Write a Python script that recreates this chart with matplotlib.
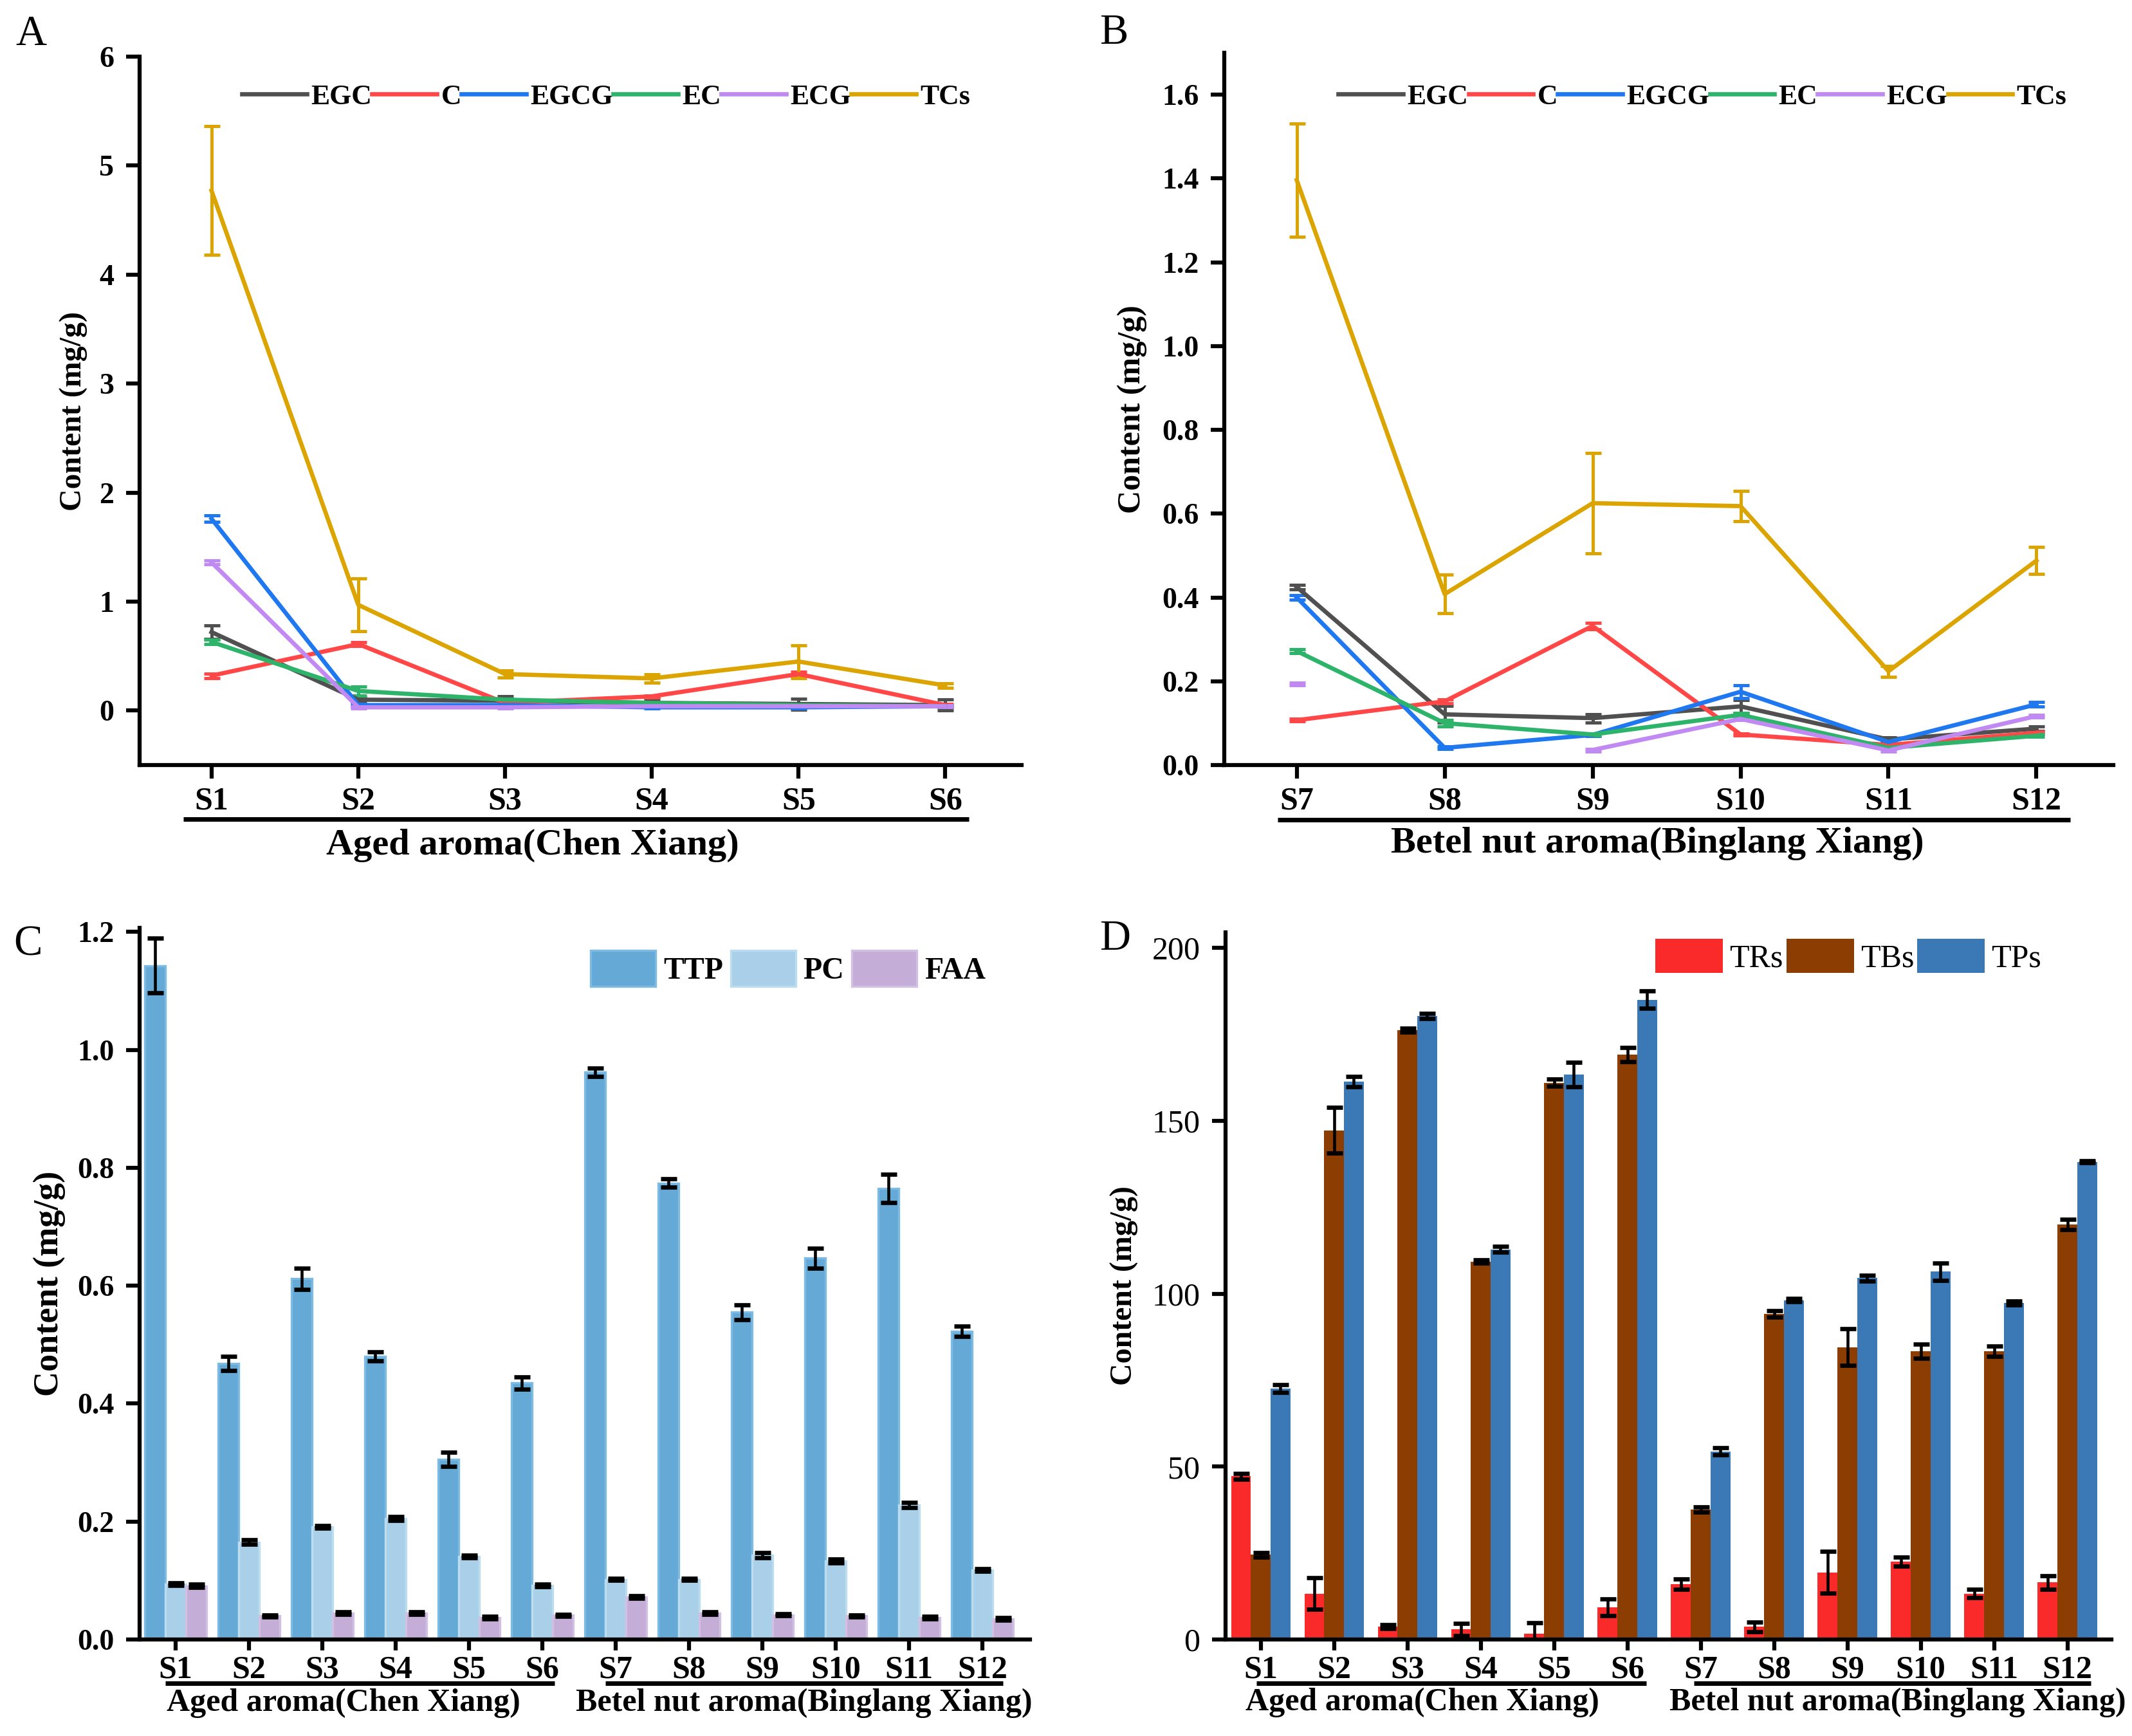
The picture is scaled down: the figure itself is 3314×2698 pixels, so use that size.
import numpy as np
import matplotlib
matplotlib.use('Agg')
import matplotlib.pyplot as plt

plt.rcParams['font.family'] = ['Liberation Serif', 'DejaVu Serif']

# ---- data ----
samples_ab_a = ['S1', 'S2', 'S3', 'S4', 'S5', 'S6']
samples_ab_b = ['S7', 'S8', 'S9', 'S10', 'S11', 'S12']
samples_cd = ['S1', 'S2', 'S3', 'S4', 'S5', 'S6', 'S7', 'S8', 'S9', 'S10', 'S11', 'S12']

cat_names = ['EGC', 'C', 'EGCG', 'EC', 'ECG', 'TCs']
cat_colors = ['#505050', '#ff4747', '#1f78f0', '#2eb46a', '#c08af2', '#dca400']

# panel A (Aged aroma)
a_egc = [0.72, 0.10, 0.09, 0.07, 0.06, 0.05]
a_egc_err = [0.06, 0.02, 0.04, 0.04, 0.05, 0.05]
a_c = [0.32, 0.61, 0.07, 0.13, 0.335, 0.05]
a_c_err = [0.02, 0.02, 0.01, 0.01, 0.02, 0.01]
a_egcg = [1.76, 0.05, 0.05, 0.03, 0.03, 0.04]
a_egcg_err = [0.03, 0.01, 0.01, 0.01, 0.01, 0.01]
a_ec = [0.63, 0.18, 0.10, 0.07, 0.05, 0.04]
a_ec_err = [0.02, 0.04, 0.01, 0.01, 0.01, 0.01]
a_ecg = [1.36, 0.03, 0.03, 0.04, 0.04, 0.04]
a_ecg_err = [0.02, 0.01, 0.01, 0.01, 0.01, 0.01]
a_tcs = [4.77, 0.97, 0.335, 0.295, 0.45, 0.23]
a_tcs_err = [0.59, 0.24, 0.03, 0.04, 0.15, 0.02]

# panel B (Betel nut aroma)
b_egc = [0.425, 0.121, 0.112, 0.14, 0.061, 0.087]
b_egc_err = [0.005, 0.02, 0.01, 0.015, 0.005, 0.005]
b_c = [0.107, 0.152, 0.332, 0.073, 0.048, 0.077]
b_c_err = [0.003, 0.005, 0.008, 0.003, 0.003, 0.003]
b_egcg = [0.40, 0.041, 0.072, 0.175, 0.055, 0.145]
b_egcg_err = [0.005, 0.003, 0.003, 0.015, 0.005, 0.005]
b_ec = [0.272, 0.10, 0.073, 0.12, 0.041, 0.07]
b_ec_err = [0.005, 0.008, 0.003, 0.005, 0.003, 0.003]
b_ecg = [0.193, np.nan, 0.036, 0.11, 0.035, 0.117]
b_ecg_err = [0.003, 0.0, 0.003, 0.003, 0.003, 0.003]
b_tcs = [1.396, 0.408, 0.625, 0.618, 0.224, 0.488]
b_tcs_err = [0.135, 0.046, 0.12, 0.036, 0.013, 0.032]

# panel C
ttp = [1.143, 0.468, 0.612, 0.48, 0.306, 0.435, 0.962, 0.774, 0.555, 0.647, 0.765, 0.523]
ttp_err = [0.046, 0.012, 0.018, 0.008, 0.012, 0.01, 0.007, 0.007, 0.013, 0.017, 0.024, 0.009]
pc = [0.094, 0.165, 0.191, 0.205, 0.141, 0.092, 0.102, 0.102, 0.143, 0.133, 0.228, 0.118]
pc_err = [0.002, 0.004, 0.002, 0.003, 0.002, 0.002, 0.002, 0.002, 0.004, 0.003, 0.004, 0.002]
faa = [0.091, 0.040, 0.045, 0.045, 0.037, 0.041, 0.072, 0.045, 0.042, 0.040, 0.037, 0.035]
faa_err = [0.003, 0.002, 0.002, 0.002, 0.002, 0.002, 0.002, 0.002, 0.002, 0.002, 0.002, 0.002]

# panel D
trs = [47.2, 13.3, 3.7, 2.9, 1.6, 9.3, 16.0, 3.7, 19.4, 22.6, 13.3, 16.5]
trs_err = [0.8, 4.5, 0.5, 1.8, 3.2, 2.5, 1.4, 1.4, 6.0, 1.3, 1.2, 2.0]
tbs = [24.5, 147.2, 176.2, 109.3, 161.0, 169.1, 37.6, 94.1, 84.5, 83.4, 83.4, 120.0]
tbs_err = [0.6, 6.6, 0.6, 0.5, 1.0, 2.0, 0.8, 0.9, 5.3, 2.0, 1.5, 1.5]
tps = [72.5, 161.3, 180.3, 112.8, 163.4, 185.0, 54.4, 98.1, 104.5, 106.4, 97.3, 138.1]
tps_err = [1.1, 1.5, 0.7, 0.8, 3.5, 2.5, 1.0, 0.5, 0.8, 2.5, 0.6, 0.3]

aged_label = 'Aged aroma(Chen Xiang)'
betel_label = 'Betel nut aroma(Binglang Xiang)'
ylab = 'Content (mg/g)'


def style_axes(ax, ytick_bold=True, yfs=11, xfs=12):
    for s in ['top', 'right']:
        ax.spines[s].set_visible(False)
    for s in ['left', 'bottom']:
        ax.spines[s].set_linewidth(1.5)
    ax.tick_params(axis='both', direction='out', length=5, width=1.5)
    ax.tick_params(axis='y', pad=4.5, labelsize=yfs)
    ax.tick_params(axis='x', pad=3, labelsize=xfs)
    for t in ax.get_xticklabels():
        t.set_fontweight('bold')
    for t in ax.get_yticklabels():
        t.set_fontweight('bold' if ytick_bold else 'normal')


def group(ax, x0, x1, xc, text, yl, yt, fs):
    tr = ax.get_xaxis_transform()
    ax.plot([x0, x1], [yl, yl], transform=tr, color='black', lw=1.7,
            clip_on=False, solid_capstyle='butt')
    ax.text(xc, yt, text, transform=tr, ha='center', va='center',
            fontsize=fs, fontweight='bold')


def line_panel(ax, xs, series, errs):
    handles = []
    for vals, err, col in zip(series, errs, cat_colors):
        cont = ax.errorbar(xs, vals, yerr=err, color=col, lw=1.6,
                           elinewidth=1.2, capsize=3, capthick=1.2)
        handles.append(cont.lines[0])
    return handles


fig = plt.figure(figsize=(3314 / 300, 2698 / 300), dpi=300)

# ---- A ----
axA = fig.add_axes([0.06548, 0.55930, 0.41370, 0.40808])
xa = np.arange(1, 7)
hA = line_panel(axA, xa, [a_egc, a_c, a_egcg, a_ec, a_ecg, a_tcs],
                [a_egc_err, a_c_err, a_egcg_err, a_ec_err, a_ecg_err, a_tcs_err])
axA.set_xlim(0.51, 6.52)
axA.set_ylim(-0.5, 6)
axA.set_yticks(range(0, 7))
axA.set_xticks(xa)
axA.set_xticklabels(samples_ab_a)
axA.set_ylabel(ylab, fontsize=11.5, fontweight='bold')
axA.yaxis.set_label_coords(-0.058, 0.5)
style_axes(axA, yfs=11, xfs=12)
axA.legend(hA, cat_names, loc='center', bbox_to_anchor=(0.529, 0.943), ncol=6,
           frameon=False, handlelength=2.3, handletextpad=0.15, columnspacing=0.0,
           borderpad=0, prop={'weight': 'bold', 'size': 10.5})
group(axA, 0.81, 6.16, 3.19, aged_label, -0.076, -0.113, 14)

# ---- B ----
axB = fig.add_axes([0.57423, 0.55930, 0.41702, 0.41031])
xb = np.arange(7, 13)
hB = line_panel(axB, xb, [b_egc, b_c, b_egcg, b_ec, b_ecg, b_tcs],
                [b_egc_err, b_c_err, b_egcg_err, b_ec_err, b_ecg_err, b_tcs_err])
axB.set_xlim(6.51, 12.52)
axB.set_ylim(0, 1.7)
axB.set_yticks(np.arange(0, 1.61, 0.2))
axB.set_yticklabels(['%.1f' % v for v in np.arange(0, 1.61, 0.2)])
axB.set_xticks(xb)
axB.set_xticklabels(samples_ab_b)
axB.set_ylabel(ylab, fontsize=12, fontweight='bold')
axB.yaxis.set_label_coords(-0.087, 0.5)
style_axes(axB, yfs=11, xfs=12)
axB.legend(hB, cat_names, loc='center', bbox_to_anchor=(0.538, 0.938), ncol=6,
           frameon=False, handlelength=2.3, handletextpad=0.15, columnspacing=0.0,
           borderpad=0, prop={'weight': 'bold', 'size': 10.5})
group(axB, 6.87, 12.23, 9.44, betel_label, -0.077, -0.110, 14)

# ---- C ----
axC = fig.add_axes([0.06548, 0.05560, 0.41762, 0.40993])
xc = np.arange(1, 13)
w = 0.28
ekw = dict(elinewidth=1.1, capsize=3, capthick=1.6, ecolor='black')
axC.bar(xc - w, ttp, w, yerr=ttp_err, color='#65aad7', edgecolor='#7dbbe3',
        lw=0.8, label='TTP', error_kw=ekw)
axC.bar(xc, pc, w, yerr=pc_err, color='#a9d0e8', edgecolor='#bcdcf0',
        lw=0.8, label='PC', error_kw=ekw)
axC.bar(xc + w, faa, w, yerr=faa_err, color='#c4aed7', edgecolor='#d2c0e2',
        lw=0.8, label='FAA', error_kw=ekw)
axC.set_xlim(0.51, 12.65)
axC.set_ylim(0, 1.207)
axC.set_yticks(np.arange(0, 1.21, 0.2))
axC.set_yticklabels(['%.1f' % v for v in np.arange(0, 1.21, 0.2)])
axC.set_xticks(xc)
axC.set_xticklabels(samples_cd)
axC.set_ylabel(ylab, fontsize=13, fontweight='bold')
axC.yaxis.set_label_coords(-0.083, 0.5)
style_axes(axC, yfs=11, xfs=12)
axC.tick_params(axis='x', length=4, pad=2)
axC.legend(loc='center', bbox_to_anchor=(0.7285, 0.943), ncol=3, frameon=False,
           handlelength=2.1, handleheight=1.45, handletextpad=0.25,
           columnspacing=0.25, borderpad=0, prop={'weight': 'bold', 'size': 11.5})
group(axC, 0.86, 6.17, 3.29, aged_label, -0.0615, -0.0895, 12)
group(axC, 6.86, 12.28, 9.57, betel_label, -0.0615, -0.0895, 12)

# ---- D ----
axD = fig.add_axes([0.57483, 0.05560, 0.41551, 0.40734])
w = 0.27
axD.bar(xc - w, trs, w, yerr=trs_err, color='#fb2a2a', label='TRs', error_kw=ekw)
axD.bar(xc, tbs, w, yerr=tbs_err, color='#8c3d02', label='TBs', error_kw=ekw)
axD.bar(xc + w, tps, w, yerr=tps_err, color='#3a79b6', label='TPs', error_kw=ekw)
axD.set_xlim(0.52, 12.6)
axD.set_ylim(0, 204.5)
axD.set_yticks([0, 50, 100, 150, 200])
axD.set_xticks(xc)
axD.set_xticklabels(samples_cd)
axD.set_ylabel(ylab, fontsize=11.5, fontweight='bold')
axD.yaxis.set_label_coords(-0.098, 0.5)
style_axes(axD, ytick_bold=False, yfs=12, xfs=12)
axD.tick_params(axis='x', length=4, pad=2)
axD.legend(loc='center', bbox_to_anchor=(0.703, 0.966), ncol=3, frameon=False,
           handlelength=2.1, handleheight=1.25, handletextpad=0.2,
           columnspacing=0.1, borderpad=0, prop={'size': 12})
group(axD, 0.94, 6.26, 3.2, aged_label, -0.062, -0.089, 12)
group(axD, 6.91, 12.32, 9.69, betel_label, -0.062, -0.089, 12)

# panel letters
for lx, ly, letter in [(48, 53, 'A'), (1731, 51, 'B'), (43, 1468, 'C'), (1733, 1460, 'D')]:
    fig.text(lx / 3314, 1 - ly / 2698, letter, ha='center', va='center', fontsize=16)

fig.savefig('out.png', dpi=300)
